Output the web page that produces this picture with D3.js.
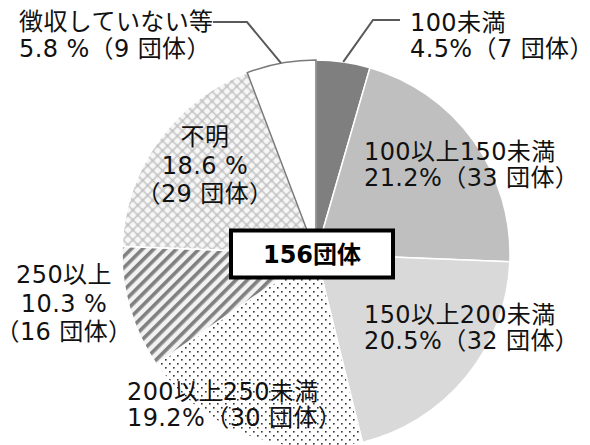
<!DOCTYPE html>
<html lang="ja">
<head>
<meta charset="utf-8">
<title>徴収額別 団体数</title>
<script src="https://d3js.org/d3.v7.min.js"></script>
<style>
  body { margin: 0; background: #fff; }
  .lbl { font-family: "DejaVu Sans", "Noto Sans CJK JP", sans-serif; font-size: 24px; letter-spacing: 0.4px; fill: #111; }
  .total { font-family: "DejaVu Sans", "Noto Sans CJK JP", sans-serif; font-size: 24px; font-weight: bold; }
</style>
</head>
<body>
<script>
// data (clockwise from 12 o'clock)
const categories = ["100未満", "100以上150未満", "150以上200未満", "200以上250未満", "250以上", "不明", "徴収していない等"];
const counts = [7, 33, 32, 30, 16, 29, 9];
const pctLabels = ["4.5%", "21.2%", "20.5%", "19.2%", "10.3 %", "18.6 %", "5.8 %"];
const totalLabel = "156団体";

const width = 590, height = 445;
const cx = 316, cy = 254, radius = 194;

// fills: solid greys and patterns
const fills = ["#7f7f7f", "#bfbfbf", "#d9d9d9", "url(#dots)", "url(#stripes)", "url(#trellis)", "#ffffff"];

// label layout: x, first baseline, line gap, anchor, and how the text is split
const labelPos = [
  {x: 410, y: 31, gap: 26, anchor: "start", split: 2},
  {x: 364, y: 160, gap: 26, anchor: "start", split: 2},
  {x: 364, y: 323, gap: 26, anchor: "start", split: 2},
  {x: 127, y: 400, gap: 26, anchor: "start", split: 2},
  {x: 64, y: 283, gap: 28.5, anchor: "middle", split: 3},
  {x: 205, y: 145, gap: 28.5, anchor: "middle", split: 3},
  {x: 19, y: 30, gap: 27, anchor: "start", split: 2}
];
// leader line knees (label side) for the two small slices
const leaders = {0: [[400, 20], [373, 20]], 6: [[213, 22], [247, 22]]};

const svg = d3.select("body").append("svg")
  .attr("width", width).attr("height", height);

const defs = svg.append("defs");

// dotted pattern
const dots = defs.append("pattern").attr("id", "dots")
  .attr("patternUnits", "userSpaceOnUse").attr("width", 8).attr("height", 8);
dots.append("rect").attr("width", 8).attr("height", 8).attr("fill", "#fff");
dots.append("rect").attr("x", 1).attr("y", 1).attr("width", 1.6).attr("height", 1.6).attr("fill", "#333");
dots.append("rect").attr("x", 5).attr("y", 5).attr("width", 1.6).attr("height", 1.6).attr("fill", "#333");

// wide diagonal stripes
const stripes = defs.append("pattern").attr("id", "stripes")
  .attr("patternUnits", "userSpaceOnUse").attr("width", 8).attr("height", 8)
  .attr("patternTransform", "rotate(45)");
stripes.append("rect").attr("width", 8).attr("height", 8).attr("fill", "#f2f2f2");
stripes.append("rect").attr("width", 3.6).attr("height", 8).attr("fill", "#808080");

// trellis / diamonds
const trellis = defs.append("pattern").attr("id", "trellis")
  .attr("patternUnits", "userSpaceOnUse").attr("width", 7).attr("height", 7)
  .attr("patternTransform", "rotate(45)");
trellis.append("rect").attr("width", 7).attr("height", 7).attr("fill", "#c4c4c4");
trellis.append("rect").attr("x", 1.3).attr("y", 1.3).attr("width", 5.4).attr("height", 5.4)
  .attr("rx", 1.2).attr("fill", "#f7f7f7");

const pie = d3.pie().sort(null).value(d => d)(counts);
const arc = d3.arc().innerRadius(0).outerRadius(radius);
const edgeArc = d3.arc().innerRadius(radius).outerRadius(radius);

const g = svg.append("g").attr("transform", `translate(${cx},${cy})`);

g.selectAll("path.slice")
  .data(pie)
  .enter()
  .append("path")
  .attr("class", "slice")
  .attr("d", arc)
  .attr("fill", (d, i) => fills[i])
  .attr("stroke", (d, i) => i === 6 ? "#7a7a7a" : "#fff")
  .attr("stroke-width", 1.5);

// leader lines
Object.keys(leaders).forEach(k => {
  const i = +k;
  const p = edgeArc.centroid(pie[i]);
  const pts = leaders[i].concat([[cx + p[0], cy + p[1]]]);
  svg.append("path")
    .attr("d", d3.line()(pts))
    .attr("fill", "none")
    .attr("stroke", "#595959")
    .attr("stroke-width", 2);
});

// slice labels
categories.forEach((c, i) => {
  const lp = labelPos[i];
  const lines = lp.split === 3
    ? [c, pctLabels[i], "（" + counts[i] + " 団体）"]
    : [c, pctLabels[i] + "（" + counts[i] + " 団体）"];
  const t = svg.append("text").attr("class", "lbl").attr("text-anchor", lp.anchor);
  lines.forEach((s, j) => {
    t.append("tspan").attr("x", lp.x).attr("y", lp.y + j * lp.gap).text(s);
  });
});

// total box in the middle
const bw = 162, bh = 47;
svg.append("rect")
  .attr("x", cx - 4 - bw / 2).attr("y", cy - bh / 2)
  .attr("width", bw).attr("height", bh)
  .attr("fill", "#fff").attr("stroke", "#000").attr("stroke-width", 4);
svg.append("text").attr("class", "total")
  .attr("x", cx - 4).attr("y", cy + 9)
  .attr("text-anchor", "middle")
  .text(totalLabel);
</script>
</body>
</html>
